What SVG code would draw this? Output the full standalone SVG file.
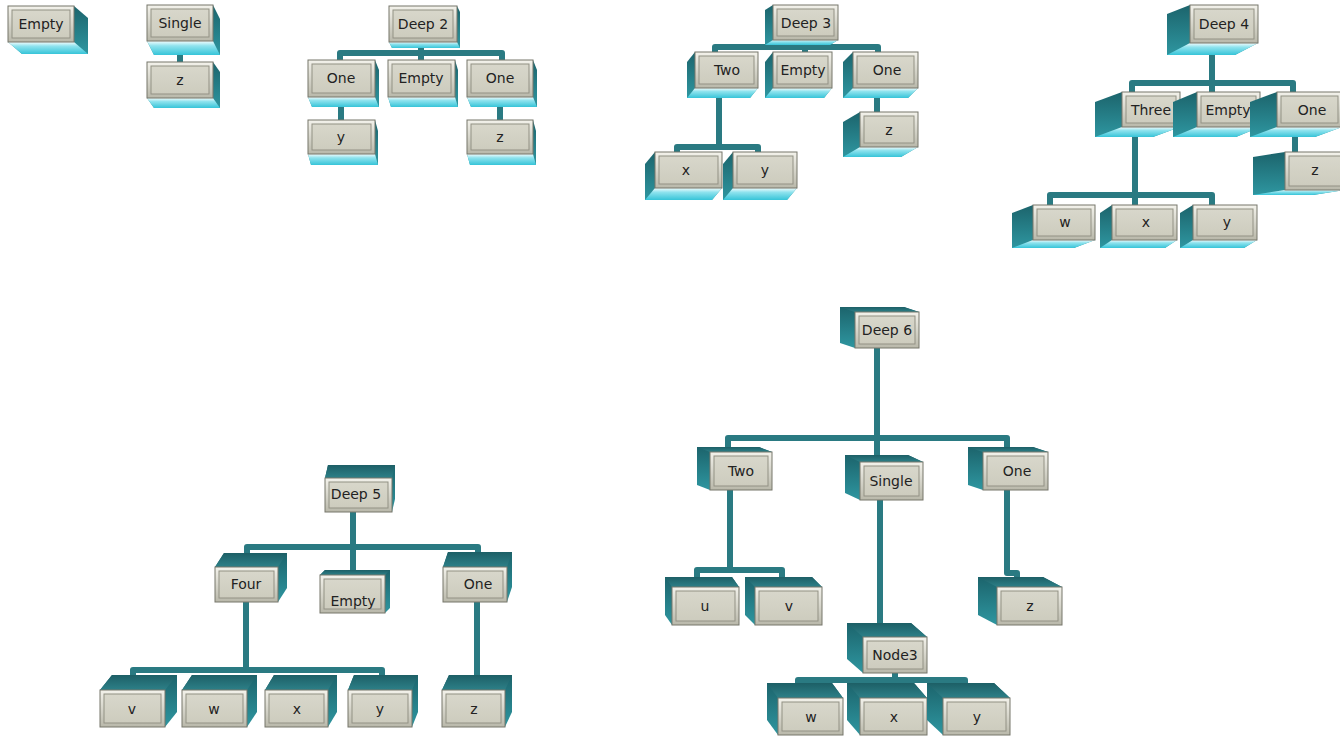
<svg xmlns="http://www.w3.org/2000/svg" width="1340" height="738" viewBox="0 0 1340 738">
<defs>
  <linearGradient id="gFace" x1="0" y1="0" x2="0" y2="1">
    <stop offset="0" stop-color="#f3f2eb"/>
    <stop offset="1" stop-color="#b9b8aa"/>
  </linearGradient>
  <linearGradient id="gPanel" x1="0" y1="0" x2="0" y2="1">
    <stop offset="0" stop-color="#d8d7cb"/>
    <stop offset="1" stop-color="#cdccbe"/>
  </linearGradient>
  <linearGradient id="gSide" x1="0" y1="0" x2="0" y2="1">
    <stop offset="0" stop-color="#1c646c"/>
    <stop offset="1" stop-color="#2e96a0"/>
  </linearGradient>
  <linearGradient id="gBottom" x1="0" y1="0" x2="0" y2="1">
    <stop offset="0" stop-color="#f4fdfe"/>
    <stop offset="0.35" stop-color="#8fe3ee"/>
    <stop offset="1" stop-color="#36c4d8"/>
  </linearGradient>
  <linearGradient id="gTop" x1="0" y1="0" x2="0" y2="1">
    <stop offset="0" stop-color="#1d5f66"/>
    <stop offset="1" stop-color="#2d8088"/>
  </linearGradient>
</defs>
<style>
  .ext { fill: url(#gSide); }
  .bot { fill: url(#gBottom); }
  .top { fill: url(#gTop); }
  .face { fill: url(#gFace); stroke: #76766b; stroke-width: 1; }
  .panel { fill: url(#gPanel); stroke: #929184; stroke-width: 1; }
  .lbl { font-family: "DejaVu Sans", "Liberation Sans", sans-serif; font-size: 14px; fill: #222; text-anchor: middle; }
  .wire { fill: none; stroke: #2a7a82; stroke-width: 6; stroke-linejoin: round; }
</style>
<rect width="1340" height="738" fill="#ffffff"/>

<!-- tree links -->
<g id="connectors">
  <path class="wire" d="M180,55 V62"/>
  <path class="wire" d="M421,48 V53 M340,60 V53 H502 V60 M421,53 V60 M341,107 V120 M500,107 V120"/>
  <path class="wire" d="M805,45 V47 M715,52 V47 H878 V52 M805,47 V52 M719,98 V147 M677,152 V147 H758 V152 M877,98 V112"/>
  <path class="wire" d="M1212,55 V83 M1132,92 V83 H1293 V92 M1212,83 V92 M1135,137 V195 M1050,205 V195 H1212 V205 M1135,195 V205 M1295,137 V152"/>
  <path class="wire" d="M353,512 V547 M247,553 V547 H478 V552 M353,547 V570 M246,602 V670 M133,675 V670 H382 V675 M477,602 V675"/>
  <path class="wire" d="M877,348 V438 M728,447 V438 H1007 V447 M877,438 V455 M730,490 V570 M697,577 V570 H782 V577 M880,500 V623 M1007,490 V573 H1017 V577 M895,673 V680 M798,683 V680 H965 V683"/>
</g>

<!-- Empty -->
<g id="empty">
  <polygon class="ext" points="8,6 74,6 88,18 88,54 22,54 8,42"/>
  <polygon class="bot" points="8,42 74,42 88,54 22,54"/>
  <rect class="face" x="8" y="6" width="66" height="36"/>
  <rect class="panel" x="12" y="10" width="58" height="28"/>
  <text class="lbl" x="41" y="29">Empty</text>
</g>

<!-- Single -->
<g id="single">
  <polygon class="ext" points="147,5 213,5 220,19 220,55 154,55 147,41"/>
  <polygon class="bot" points="147,41 213,41 220,55 154,55"/>
  <rect class="face" x="147" y="5" width="66" height="36"/>
  <rect class="panel" x="151" y="9" width="58" height="28"/>
  <text class="lbl" x="180" y="28">Single</text>
</g>
<g id="single-z">
  <polygon class="ext" points="147,62 213,62 220,72 220,108 154,108 147,98"/>
  <polygon class="bot" points="147,98 213,98 220,108 154,108"/>
  <rect class="face" x="147" y="62" width="66" height="36"/>
  <rect class="panel" x="151" y="66" width="58" height="28"/>
  <text class="lbl" x="180" y="85">z</text>
</g>

<!-- Deep 2 -->
<g id="deep2">
  <polygon class="ext" points="389,6 457,6 460,12 460,48 392,48 389,42"/>
  <polygon class="bot" points="389,42 457,42 460,48 392,48"/>
  <rect class="face" x="389" y="6" width="68" height="36"/>
  <rect class="panel" x="393" y="10" width="60" height="28"/>
  <text class="lbl" x="423" y="29">Deep 2</text>
</g>
<g id="deep2-one-l">
  <polygon class="ext" points="308,60 375,60 379,70 379,107 312,107 308,97"/>
  <polygon class="bot" points="308,97 375,97 379,107 312,107"/>
  <rect class="face" x="308" y="60" width="67" height="37"/>
  <rect class="panel" x="312" y="64" width="59" height="29"/>
  <text class="lbl" x="341" y="83">One</text>
</g>
<g id="deep2-empty">
  <polygon class="ext" points="388,60 455,60 458,70 458,107 391,107 388,97"/>
  <polygon class="bot" points="388,97 455,97 458,107 391,107"/>
  <rect class="face" x="388" y="60" width="67" height="37"/>
  <rect class="panel" x="392" y="64" width="59" height="29"/>
  <text class="lbl" x="421" y="83">Empty</text>
</g>
<g id="deep2-one-r">
  <polygon class="ext" points="467,60 533,60 537,70 537,107 471,107 467,97"/>
  <polygon class="bot" points="467,97 533,97 537,107 471,107"/>
  <rect class="face" x="467" y="60" width="66" height="37"/>
  <rect class="panel" x="471" y="64" width="58" height="29"/>
  <text class="lbl" x="500" y="83">One</text>
</g>
<g id="deep2-y">
  <polygon class="ext" points="308,120 375,120 378,131 378,165 311,165 308,154"/>
  <polygon class="bot" points="308,154 375,154 378,165 311,165"/>
  <rect class="face" x="308" y="120" width="67" height="34"/>
  <rect class="panel" x="312" y="124" width="59" height="26"/>
  <text class="lbl" x="341" y="142">y</text>
</g>
<g id="deep2-z">
  <polygon class="ext" points="467,120 533,120 536,131 536,165 470,165 467,154"/>
  <polygon class="bot" points="467,154 533,154 536,165 470,165"/>
  <rect class="face" x="467" y="120" width="66" height="34"/>
  <rect class="panel" x="471" y="124" width="58" height="26"/>
  <text class="lbl" x="500" y="142">z</text>
</g>

<!-- Deep 3 -->
<g id="deep3">
  <polygon class="ext" points="773,5 838,5 838,40 830,45 765,45 765,10"/>
  <polygon class="bot" points="773,40 838,40 830,45 765,45"/>
  <rect class="face" x="773" y="5" width="65" height="35"/>
  <rect class="panel" x="777" y="9" width="57" height="27"/>
  <text class="lbl" x="806" y="28">Deep 3</text>
</g>
<g id="deep3-two">
  <polygon class="ext" points="695,52 758,52 758,88 750,98 687,98 687,62"/>
  <polygon class="bot" points="695,88 758,88 750,98 687,98"/>
  <rect class="face" x="695" y="52" width="63" height="36"/>
  <rect class="panel" x="699" y="56" width="55" height="28"/>
  <text class="lbl" x="727" y="75">Two</text>
</g>
<g id="deep3-empty">
  <polygon class="ext" points="773,52 832,52 832,88 824,98 765,98 765,62"/>
  <polygon class="bot" points="773,88 832,88 824,98 765,98"/>
  <rect class="face" x="773" y="52" width="59" height="36"/>
  <rect class="panel" x="777" y="56" width="51" height="28"/>
  <text class="lbl" x="803" y="75">Empty</text>
</g>
<g id="deep3-one">
  <polygon class="ext" points="853,52 918,52 918,88 908,98 843,98 843,62"/>
  <polygon class="bot" points="853,88 918,88 908,98 843,98"/>
  <rect class="face" x="853" y="52" width="65" height="36"/>
  <rect class="panel" x="857" y="56" width="57" height="28"/>
  <text class="lbl" x="887" y="75">One</text>
</g>
<g id="deep3-z">
  <polygon class="ext" points="860,112 918,112 918,147 901,157 843,157 843,122"/>
  <polygon class="bot" points="860,147 918,147 901,157 843,157"/>
  <rect class="face" x="860" y="112" width="58" height="35"/>
  <rect class="panel" x="864" y="116" width="50" height="27"/>
  <text class="lbl" x="889" y="135">z</text>
</g>
<g id="deep3-x">
  <polygon class="ext" points="655,152 722,152 722,188 712,200 645,200 645,164"/>
  <polygon class="bot" points="655,188 722,188 712,200 645,200"/>
  <rect class="face" x="655" y="152" width="67" height="36"/>
  <rect class="panel" x="659" y="156" width="59" height="28"/>
  <text class="lbl" x="686" y="175">x</text>
</g>
<g id="deep3-y">
  <polygon class="ext" points="733,152 797,152 797,188 787,200 723,200 723,164"/>
  <polygon class="bot" points="733,188 797,188 787,200 723,200"/>
  <rect class="face" x="733" y="152" width="64" height="36"/>
  <rect class="panel" x="737" y="156" width="56" height="28"/>
  <text class="lbl" x="765" y="175">y</text>
</g>

<!-- Deep 4 -->
<g id="deep4">
  <polygon class="ext" points="1190,5 1258,5 1258,43 1235,55 1167,55 1167,14"/>
  <polygon class="bot" points="1190,43 1258,43 1235,55 1167,55"/>
  <rect class="face" x="1190" y="5" width="68" height="38"/>
  <rect class="panel" x="1194" y="9" width="60" height="30"/>
  <text class="lbl" x="1224" y="29">Deep 4</text>
</g>
<g id="deep4-three">
  <polygon class="ext" points="1122,92 1180,92 1180,127 1153,137 1095,137 1095,102"/>
  <polygon class="bot" points="1122,127 1180,127 1153,137 1095,137"/>
  <rect class="face" x="1122" y="92" width="58" height="35"/>
  <rect class="panel" x="1126" y="96" width="50" height="27"/>
  <text class="lbl" x="1151" y="115">Three</text>
</g>
<g id="deep4-empty">
  <polygon class="ext" points="1197,92 1260,92 1260,127 1236,137 1173,137 1173,102"/>
  <polygon class="bot" points="1197,127 1260,127 1236,137 1173,137"/>
  <rect class="face" x="1197" y="92" width="63" height="35"/>
  <rect class="panel" x="1201" y="96" width="55" height="27"/>
  <text class="lbl" x="1228" y="115">Empty</text>
</g>
<g id="deep4-one">
  <polygon class="ext" points="1277,92 1342,92 1342,127 1315,137 1250,137 1250,102"/>
  <polygon class="bot" points="1277,127 1342,127 1315,137 1250,137"/>
  <rect class="face" x="1277" y="92" width="65" height="35"/>
  <rect class="panel" x="1281" y="96" width="57" height="27"/>
  <text class="lbl" x="1312" y="115">One</text>
</g>
<g id="deep4-z">
  <polygon class="ext" points="1285,152 1345,152 1345,190 1313,195 1253,195 1253,157"/>
  <polygon class="bot" points="1285,190 1345,190 1313,195 1253,195"/>
  <rect class="face" x="1285" y="152" width="60" height="38"/>
  <rect class="panel" x="1289" y="156" width="52" height="30"/>
  <text class="lbl" x="1315" y="175">z</text>
</g>
<g id="deep4-w">
  <polygon class="ext" points="1033,205 1095,205 1095,240 1074,248 1012,248 1012,213"/>
  <polygon class="bot" points="1033,240 1095,240 1074,248 1012,248"/>
  <rect class="face" x="1033" y="205" width="62" height="35"/>
  <rect class="panel" x="1037" y="209" width="54" height="27"/>
  <text class="lbl" x="1065" y="227">w</text>
</g>
<g id="deep4-x">
  <polygon class="ext" points="1112,205 1177,205 1177,240 1165,248 1100,248 1100,213"/>
  <polygon class="bot" points="1112,240 1177,240 1165,248 1100,248"/>
  <rect class="face" x="1112" y="205" width="65" height="35"/>
  <rect class="panel" x="1116" y="209" width="57" height="27"/>
  <text class="lbl" x="1146" y="227">x</text>
</g>
<g id="deep4-y">
  <polygon class="ext" points="1193,205 1257,205 1257,240 1244,248 1180,248 1180,213"/>
  <polygon class="bot" points="1193,240 1257,240 1244,248 1180,248"/>
  <rect class="face" x="1193" y="205" width="64" height="35"/>
  <rect class="panel" x="1197" y="209" width="56" height="27"/>
  <text class="lbl" x="1227" y="227">y</text>
</g>

<!-- Deep 5 -->
<g id="deep5">
  <polygon class="ext" points="328,465 395,465 395,499 392,512 325,512 325,478"/>
  <polygon class="top" points="325,478 392,478 395,465 328,465"/>
  <rect class="face" x="325" y="478" width="67" height="34"/>
  <rect class="panel" x="329" y="482" width="59" height="26"/>
  <text class="lbl" x="356" y="499">Deep 5</text>
</g>
<g id="deep5-four">
  <polygon class="ext" points="224,553 287,553 287,588 278,602 215,602 215,567"/>
  <polygon class="top" points="215,567 278,567 287,553 224,553"/>
  <rect class="face" x="215" y="567" width="63" height="35"/>
  <rect class="panel" x="219" y="571" width="55" height="27"/>
  <text class="lbl" x="246" y="589">Four</text>
</g>
<g id="deep5-empty">
  <polygon class="ext" points="325,570 390,570 390,608 385,613 320,613 320,575"/>
  <polygon class="top" points="320,575 385,575 390,570 325,570"/>
  <rect class="face" x="320" y="575" width="65" height="38"/>
  <rect class="panel" x="324" y="579" width="57" height="30"/>
  <text class="lbl" x="353" y="606">Empty</text>
</g>
<g id="deep5-one">
  <polygon class="ext" points="448,552 512,552 512,587 507,602 443,602 443,567"/>
  <polygon class="top" points="443,567 507,567 512,552 448,552"/>
  <rect class="face" x="443" y="567" width="64" height="35"/>
  <rect class="panel" x="447" y="571" width="56" height="27"/>
  <text class="lbl" x="478" y="589">One</text>
</g>
<g id="deep5-v">
  <polygon class="ext" points="112,675 177,675 177,712 165,727 100,727 100,690"/>
  <polygon class="top" points="100,690 165,690 177,675 112,675"/>
  <rect class="face" x="100" y="690" width="65" height="37"/>
  <rect class="panel" x="104" y="694" width="57" height="29"/>
  <text class="lbl" x="132" y="714">v</text>
</g>
<g id="deep5-w">
  <polygon class="ext" points="192,675 257,675 257,712 247,727 182,727 182,690"/>
  <polygon class="top" points="182,690 247,690 257,675 192,675"/>
  <rect class="face" x="182" y="690" width="65" height="37"/>
  <rect class="panel" x="186" y="694" width="57" height="29"/>
  <text class="lbl" x="214" y="714">w</text>
</g>
<g id="deep5-x">
  <polygon class="ext" points="274,675 337,675 337,712 328,727 265,727 265,690"/>
  <polygon class="top" points="265,690 328,690 337,675 274,675"/>
  <rect class="face" x="265" y="690" width="63" height="37"/>
  <rect class="panel" x="269" y="694" width="55" height="29"/>
  <text class="lbl" x="297" y="714">x</text>
</g>
<g id="deep5-y">
  <polygon class="ext" points="354,675 418,675 418,712 412,727 348,727 348,690"/>
  <polygon class="top" points="348,690 412,690 418,675 354,675"/>
  <rect class="face" x="348" y="690" width="64" height="37"/>
  <rect class="panel" x="352" y="694" width="56" height="29"/>
  <text class="lbl" x="380" y="714">y</text>
</g>
<g id="deep5-z">
  <polygon class="ext" points="449,675 512,675 512,712 505,727 442,727 442,690"/>
  <polygon class="top" points="442,690 505,690 512,675 449,675"/>
  <rect class="face" x="442" y="690" width="63" height="37"/>
  <rect class="panel" x="446" y="694" width="55" height="29"/>
  <text class="lbl" x="474" y="714">z</text>
</g>

<!-- Deep 6 -->
<g id="deep6">
  <polygon class="ext" points="840,307 904,307 919,312 919,348 855,348 840,343"/>
  <polygon class="top" points="855,312 919,312 904,307 840,307"/>
  <rect class="face" x="855" y="312" width="64" height="36"/>
  <rect class="panel" x="859" y="316" width="56" height="28"/>
  <text class="lbl" x="887" y="335">Deep 6</text>
</g>
<g id="deep6-two">
  <polygon class="ext" points="697,447 759,447 772,452 772,490 710,490 697,485"/>
  <polygon class="top" points="710,452 772,452 759,447 697,447"/>
  <rect class="face" x="710" y="452" width="62" height="38"/>
  <rect class="panel" x="714" y="456" width="54" height="30"/>
  <text class="lbl" x="741" y="476">Two</text>
</g>
<g id="deep6-single">
  <polygon class="ext" points="845,455 908,455 923,462 923,500 860,500 845,493"/>
  <polygon class="top" points="860,462 923,462 908,455 845,455"/>
  <rect class="face" x="860" y="462" width="63" height="38"/>
  <rect class="panel" x="864" y="466" width="55" height="30"/>
  <text class="lbl" x="891" y="486">Single</text>
</g>
<g id="deep6-one">
  <polygon class="ext" points="968,447 1033,447 1048,452 1048,490 983,490 968,485"/>
  <polygon class="top" points="983,452 1048,452 1033,447 968,447"/>
  <rect class="face" x="983" y="452" width="65" height="38"/>
  <rect class="panel" x="987" y="456" width="57" height="30"/>
  <text class="lbl" x="1017" y="476">One</text>
</g>
<g id="deep6-u">
  <polygon class="ext" points="665,577 732,577 739,587 739,625 672,625 665,615"/>
  <polygon class="top" points="672,587 739,587 732,577 665,577"/>
  <rect class="face" x="672" y="587" width="67" height="38"/>
  <rect class="panel" x="676" y="591" width="59" height="30"/>
  <text class="lbl" x="705" y="611">u</text>
</g>
<g id="deep6-v">
  <polygon class="ext" points="745,577 812,577 822,587 822,625 755,625 745,615"/>
  <polygon class="top" points="755,587 822,587 812,577 745,577"/>
  <rect class="face" x="755" y="587" width="67" height="38"/>
  <rect class="panel" x="759" y="591" width="59" height="30"/>
  <text class="lbl" x="789" y="611">v</text>
</g>
<g id="deep6-z">
  <polygon class="ext" points="978,577 1043,577 1062,587 1062,625 997,625 978,615"/>
  <polygon class="top" points="997,587 1062,587 1043,577 978,577"/>
  <rect class="face" x="997" y="587" width="65" height="38"/>
  <rect class="panel" x="1001" y="591" width="57" height="30"/>
  <text class="lbl" x="1030" y="611">z</text>
</g>
<g id="deep6-node3">
  <polygon class="ext" points="847,623 911,623 927,637 927,673 863,673 847,659"/>
  <polygon class="top" points="863,637 927,637 911,623 847,623"/>
  <rect class="face" x="863" y="637" width="64" height="36"/>
  <rect class="panel" x="867" y="641" width="56" height="28"/>
  <text class="lbl" x="895" y="660">Node3</text>
</g>
<g id="deep6-w">
  <polygon class="ext" points="767,683 832,683 843,698 843,735 778,735 767,720"/>
  <polygon class="top" points="778,698 843,698 832,683 767,683"/>
  <rect class="face" x="778" y="698" width="65" height="37"/>
  <rect class="panel" x="782" y="702" width="57" height="29"/>
  <text class="lbl" x="811" y="722">w</text>
</g>
<g id="deep6-x">
  <polygon class="ext" points="847,683 914,683 927,698 927,735 860,735 847,720"/>
  <polygon class="top" points="860,698 927,698 914,683 847,683"/>
  <rect class="face" x="860" y="698" width="67" height="37"/>
  <rect class="panel" x="864" y="702" width="59" height="29"/>
  <text class="lbl" x="894" y="722">x</text>
</g>
<g id="deep6-y">
  <polygon class="ext" points="927,683 994,683 1010,698 1010,735 943,735 927,720"/>
  <polygon class="top" points="943,698 1010,698 994,683 927,683"/>
  <rect class="face" x="943" y="698" width="67" height="37"/>
  <rect class="panel" x="947" y="702" width="59" height="29"/>
  <text class="lbl" x="977" y="722">y</text>
</g>
</svg>
